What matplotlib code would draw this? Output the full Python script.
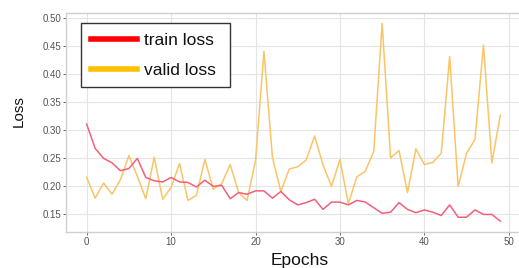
import matplotlib
matplotlib.use("Agg")
import matplotlib.pyplot as plt
from matplotlib.lines import Line2D

epochs = list(range(50))
train_loss = [0.311, 0.268, 0.250, 0.242, 0.228, 0.232, 0.250, 0.216, 0.210, 0.208,
              0.216, 0.208, 0.207, 0.199, 0.211, 0.200, 0.202, 0.178, 0.189, 0.186,
              0.192, 0.192, 0.179, 0.191, 0.176, 0.167, 0.171, 0.177, 0.159, 0.172,
              0.172, 0.167, 0.175, 0.172, 0.162, 0.152, 0.154, 0.171, 0.159, 0.153,
              0.158, 0.154, 0.148, 0.167, 0.145, 0.145, 0.158, 0.150, 0.150, 0.138]
valid_loss = [0.216, 0.179, 0.206, 0.186, 0.212, 0.255, 0.218, 0.178, 0.252, 0.177,
              0.198, 0.241, 0.175, 0.184, 0.248, 0.195, 0.205, 0.239, 0.189, 0.175,
              0.246, 0.441, 0.252, 0.191, 0.231, 0.235, 0.247, 0.290, 0.238, 0.200,
              0.248, 0.169, 0.217, 0.227, 0.262, 0.491, 0.251, 0.264, 0.189, 0.267,
              0.239, 0.243, 0.259, 0.432, 0.200, 0.259, 0.284, 0.452, 0.242, 0.327]
x_ticks = [0, 10, 20, 30, 40, 50]
y_ticks = [0.15, 0.20, 0.25, 0.30, 0.35, 0.40, 0.45, 0.50]
labels = ["train loss", "valid loss"]

plt.rcParams['font.family'] = ['Liberation Sans', 'DejaVu Sans']

W, H = 519, 268
fig = plt.figure(figsize=(W / 100, H / 100), dpi=100)
ax = fig.add_axes([66 / W, (H - 232) / H, 455 / W, 219 / H])

ax.plot(epochs, train_loss, color='#f2607a', lw=1.1, zorder=3)
ax.plot(epochs, valid_loss, color='#f9c566', lw=1.1, zorder=2)

ax.set_xlim(-2.45, 51.45)
ax.set_ylim(0.1186, 0.5095)
ax.set_xticks(x_ticks)
ax.set_yticks(y_ticks)
ax.set_yticklabels([f"{v:.2f}" for v in y_ticks])
ax.grid(True, color='#e4e4e4', lw=0.8)
ax.set_axisbelow(True)
for s in ax.spines.values():
    s.set_color('#cfcfcf')
    s.set_linewidth(1.0)
ax.tick_params(axis='both', labelsize=7, colors='#555555', length=2, pad=1.5, width=0.6)

fig.text(19 / W, 1 - 111 / H, "Loss", rotation=90, ha='center', va='center',
         fontsize=11, color='#111111')
fig.text(300 / W, 1 - 265 / H, "Epochs", ha='center', va='baseline',
         fontsize=12.5, color='#111111')

handles = [Line2D([], [], color='#ff0000', lw=4),
           Line2D([], [], color='#ffc000', lw=4)]
leg = ax.legend(handles, [l + " " for l in labels], loc='upper left',
                bbox_to_anchor=(81 / W, 1 - 23 / H), bbox_transform=fig.transFigure,
                borderaxespad=0, fontsize=12.5, frameon=True, fancybox=False,
                handlelength=2.7, handletextpad=0.35, borderpad=0.55, labelspacing=0.85)
leg.get_frame().set_edgecolor('#333333')
leg.get_frame().set_linewidth(1.0)
leg.get_frame().set_alpha(1)
for t in leg.get_texts():
    t.set_color('#111111')

fig.savefig("out.png", dpi=100)
